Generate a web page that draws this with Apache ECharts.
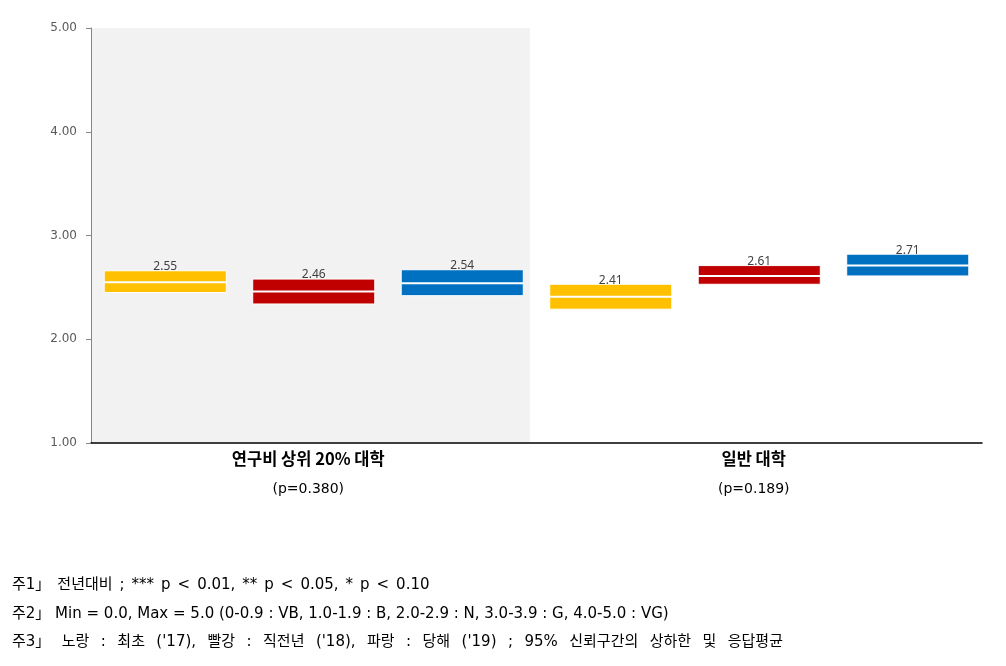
<!DOCTYPE html>
<html><head><meta charset="utf-8">
<script src="https://cdn.jsdelivr.net/npm/echarts@6/dist/echarts.min.js"></script>
<style>html,body{margin:0;padding:0;background:#fff}#c{width:1006px;height:666px}</style>
</head><body><div id="c"></div>
<script>
const categories = ['연구비 상위 20% 대학', '일반 대학'];
const pValues = ['(p=0.380)', '(p=0.189)'];
const seriesNames = ["최초 ('17)", "직전년 ('18)", "당해 ('19)"];
const mean17 = [2.55, 2.41];
const low17 = [2.45, 2.29];
const up17 = [2.66, 2.53];
const mean18 = [2.46, 2.61];
const low18 = [2.34, 2.53];
const up18 = [2.58, 2.71];
const mean19 = [2.54, 2.71];
const low19 = [2.42, 2.61];
const up19 = [2.67, 2.82];
const yMin = 1, yMax = 5, yInterval = 1;
const notes = [
  '주1」 전년대비 ; *** p < 0.01, ** p < 0.05, * p < 0.10',
  '주2」 Min = 0.0, Max = 5.0 (0-0.9 : VB, 1.0-1.9 : B, 2.0-2.9 : N, 3.0-3.9 : G, 4.0-5.0 : VG)',
  "주3」 노랑 : 최초 ('17), 빨강 : 직전년 ('18), 파랑 : 당해 ('19) ; 95% 신뢰구간의 상하한 및 응답평균"
];
const colors = ['#FFC000', '#C00000', '#0070C0'];
const lows = [low17, low18, low19];
const means = [mean17, mean18, mean19];
const ups = [up17, up18, up19];
const noteSpaceSize = [22, 15, 36];
const noteTop = [578, 604, 635];

const chart = echarts.init(document.getElementById('c'));

function makeSeries(j) {
  return {
    name: seriesNames[j],
    type: 'custom',
    z: 5,
    data: categories.map((c, i) => [i, lows[j][i], means[j][i], ups[j][i]]),
    renderItem: function (params, api) {
      const cat = api.value(0);
      const lo = api.value(1), mn = api.value(2), up = api.value(3);
      const band = api.size([1, 0])[0];
      const pLo = api.coord([cat, lo]);
      const pUp = api.coord([cat, up]);
      const pMn = api.coord([cat, mn]);
      const w = band * 0.274;
      const cx = pLo[0] + (j - 1) * band / 3;
      return {
        type: 'group',
        children: [
          { type: 'rect', shape: { x: cx - w / 2, y: pUp[1], width: w, height: pLo[1] - pUp[1] },
            style: { fill: colors[j], stroke: '#ffffff', lineWidth: 1 } },
          { type: 'line', shape: { x1: cx - w / 2, y1: pMn[1], x2: cx + w / 2, y2: pMn[1] },
            style: { stroke: '#ffffff', lineWidth: 2 } },
          { type: 'text', x: cx, y: pUp[1] + 2,
            style: { text: mn.toFixed(2), fill: '#404040', font: '12px "Noto Sans", sans-serif',
              align: 'center', verticalAlign: 'bottom' } }
        ]
      };
    }
  };
}

const option = {
  animation: false,
  grid: { left: 91, right: 24, top: 28, bottom: 223 },
  xAxis: {
    type: 'category',
    data: categories,
    z: 3,
    axisLine: { show: true, lineStyle: { color: '#000000', width: 1.5 } },
    axisTick: { show: false },
    axisLabel: {
      margin: 6,
      padding: [0, 11, 0, 0],
      formatter: function (v, idx) { return '{b|' + v + '}\n{p|' + pValues[idx] + '}'; },
      rich: {
        b: { fontWeight: 'bold', fontSize: 16.5, color: '#000', lineHeight: 20, fontFamily: '"Noto Sans CJK KR", sans-serif' },
        p: { fontSize: 14, color: '#000', lineHeight: 40, fontFamily: '"DejaVu Sans", sans-serif' }
      }
    }
  },
  yAxis: {
    type: 'value', min: yMin, max: yMax, interval: yInterval,
    z: 3,
    axisLine: { show: true, lineStyle: { color: '#868686', width: 1 } },
    axisTick: { show: true, length: 5, lineStyle: { color: '#868686' } },
    splitLine: { show: false },
    axisLabel: { margin: 14, color: '#595959', fontSize: 12, fontFamily: '"DejaVu Sans", sans-serif',
      formatter: v => v.toFixed(2) }
  },
  graphic: notes.map((t, i) => ({
    type: 'text', left: 12, top: noteTop[i] - (noteSpaceSize[i] - 15) / 2,
    style: {
      text: t.split(' ').join('{s| }'),
      fill: '#000',
      font: '15px "DejaVu Sans", "Noto Sans CJK KR", sans-serif',
      lineHeight: 20,
      rich: { s: { fontSize: noteSpaceSize[i], lineHeight: 20, fontFamily: '"DejaVu Sans", sans-serif' } }
    }
  })),
  series: [
    {
      type: 'custom', silent: true, z: 1,
      data: [[0]],
      renderItem: function (params, api) {
        const band = api.size([1, 0])[0];
        const pTop = api.coord([api.value(0), yMax]);
        const pBot = api.coord([api.value(0), yMin]);
        const x0 = pTop[0] - band / 2;
        return { type: 'rect', shape: { x: x0, y: pTop[1], width: band * 0.985, height: pBot[1] - pTop[1] },
          style: { fill: '#F2F2F2' } };
      }
    },
    makeSeries(0), makeSeries(1), makeSeries(2)
  ]
};
chart.setOption(option);
</script></body></html>
